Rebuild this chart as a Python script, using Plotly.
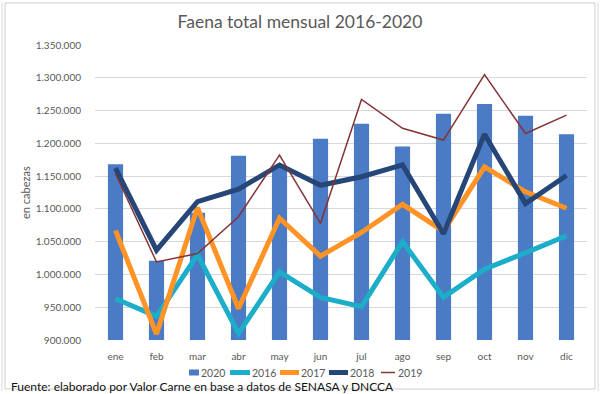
import plotly.graph_objects as go

months = ["ene", "feb", "mar", "abr", "may", "jun", "jul", "ago", "sep", "oct", "nov", "dic"]
v2020 = [1168000, 1021000, 1094000, 1181000, 1164000, 1207000, 1230000, 1195000, 1245000, 1260000, 1242000, 1214000]
v2016 = [963000, 936000, 1030000, 910000, 1004000, 965000, 951000, 1050000, 965000, 1008000, 1033000, 1059000]
v2017 = [1067000, 909000, 1102000, 948000, 1086000, 1028000, 1064000, 1107000, 1066000, 1164000, 1126000, 1101000]
v2018 = [1162000, 1037000, 1111000, 1130000, 1167000, 1136000, 1149000, 1167000, 1062000, 1214000, 1108000, 1151000]
v2019 = [1154000, 1019000, 1032000, 1088000, 1182000, 1078000, 1267000, 1223000, 1205000, 1305000, 1215000, 1243000]
ytick_vals = [900000, 950000, 1000000, 1050000, 1100000, 1150000, 1200000, 1250000, 1300000, 1350000]

series_names = ["2020", "2016", "2017", "2018", "2019"]
series_colors = ["#4a7bc4", "#1cadc9", "#ff9326", "#254677", "#843434"]

W, H = 600, 394
L, R, T, B = 95, 13, 45, 54
pw, ph = W - L - R, H - T - B

def px(x):
    return (x - L) / pw

def py(y):
    return (H - B - y) / ph

font_family = "Lato, Open Sans, sans-serif"
gray = "#595959"

fig = go.Figure()
fig.add_trace(go.Bar(x=months, y=v2020, name="2020",
                     marker=dict(color=series_colors[0], line=dict(width=0))))
for name, vals, col, w in [("2016", v2016, series_colors[1], 5),
                           ("2017", v2017, series_colors[2], 5),
                           ("2018", v2018, series_colors[3], 5),
                           ("2019", v2019, series_colors[4], 1.5)]:
    fig.add_trace(go.Scatter(x=months, y=vals, name=name, mode="lines",
                             line=dict(color=col, width=w)))

fig.update_layout(
    width=W, height=H,
    margin=dict(l=L, r=R, t=T, b=B, autoexpand=False),
    paper_bgcolor="white", plot_bgcolor="white",
    separators=",.",
    bargap=0.63,
    showlegend=False,
    font=dict(family=font_family, color=gray, size=10),
    title=dict(text="Faena total mensual 2016-2020", x=0.5, xanchor="center", xref="container",
               y=1 - 22 / H, yanchor="middle",
               font=dict(size=17.5, color=gray, family=font_family)),
    xaxis=dict(showgrid=False, showline=False, ticks="outside", ticklen=7,
               tickcolor="rgba(0,0,0,0)", tickfont=dict(size=10, color=gray),
               automargin=False),
    yaxis=dict(range=[900000, 1350000], tickvals=ytick_vals, tickformat=",d",
               showgrid=True, gridcolor="#d9d9d9", gridwidth=1, zeroline=False,
               showline=False, ticks="outside", ticklen=11, tickcolor="rgba(0,0,0,0)",
               tickfont=dict(size=10, color=gray), automargin=False),
)

# y-axis title
fig.add_annotation(text="en cabezas", xref="paper", yref="paper", x=px(25), y=py(193),
                   textangle=-90, showarrow=False, xanchor="center", yanchor="middle",
                   font=dict(size=11, color=gray, family=font_family))

# custom legend (compact, like the original)
leg_y = 372.5
leg_items = [(189, 199, 200, "rect"), (230, 250, 251, "thick"), (280, 299, 300, "thick"),
             (329, 348, 349, "thick"), (381, 395, 397, "thin")]
for (x0, x1, xt, kind), name, col in zip(leg_items, series_names, series_colors):
    if kind == "rect":
        fig.add_shape(type="rect", xref="paper", yref="paper",
                      x0=px(x0), x1=px(x1), y0=py(leg_y + 3), y1=py(leg_y - 3),
                      line=dict(width=0), fillcolor=col)
    else:
        fig.add_shape(type="line", xref="paper", yref="paper",
                      x0=px(x0), x1=px(x1), y0=py(leg_y), y1=py(leg_y),
                      line=dict(color=col, width=5 if kind == "thick" else 1.5))
    fig.add_annotation(text=name, xref="paper", yref="paper", x=px(xt), y=py(leg_y),
                       xanchor="left", yanchor="middle", showarrow=False, borderpad=0,
                       font=dict(size=10.5, color=gray, family=font_family))

# chart frame
fig.add_shape(type="rect", xref="paper", yref="paper",
              x0=px(5), x1=px(595), y0=py(389), y1=py(3),
              line=dict(color="#cfcfcf", width=1), fillcolor="rgba(0,0,0,0)", layer="below")
fig.add_shape(type="line", xref="paper", yref="paper",
              x0=px(2), x1=px(2), y0=py(391), y1=py(2),
              line=dict(color="#dadada", width=1))
fig.add_shape(type="line", xref="paper", yref="paper",
              x0=px(598), x1=px(598), y0=py(391), y1=py(2),
              line=dict(color="#dadada", width=1))

fig.add_annotation(text="Fuente: elaborado por Valor Carne en base a datos de SENASA y DNCCA",
                   xref="paper", yref="paper", x=px(10), y=py(386.5), xanchor="left", yanchor="middle",
                   showarrow=False, borderpad=0,
                   font=dict(size=12, color="#111111", family=font_family))

fig.write_html("out.html", post_script="document.body.style.margin='0';",
               config={"displayModeBar": False})
